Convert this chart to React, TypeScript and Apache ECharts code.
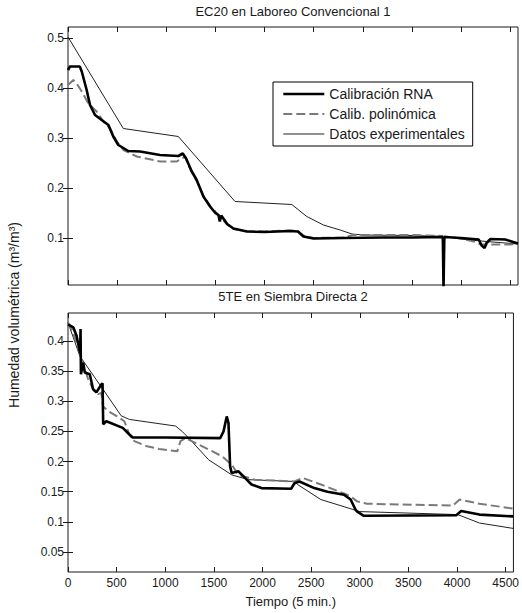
import React, { useEffect, useRef } from "react";
import * as echarts from "echarts";

const seriesNames = ["Calibración RNA", "Calib. polinómica", "Datos experimentales"];
const titles = ["EC20 en Laboreo Convencional 1", "5TE en Siembra Directa 2"];
const xTicks = [0, 500, 1000, 1500, 2000, 2500, 3000, 3500, 4000, 4500];
const yTicksTop = [0.1, 0.2, 0.3, 0.4, 0.5];
const yTicksBottom = [0.05, 0.1, 0.15, 0.2, 0.25, 0.3, 0.35, 0.4];

const topRna = [
  [0, 0.436], [20, 0.443], [120, 0.443], [140, 0.433], [190, 0.396], [224, 0.366], [275, 0.346],
  [343, 0.336], [411, 0.326], [461, 0.303], [512, 0.286], [614, 0.274], [733, 0.273], [937, 0.266],
  [1123, 0.264], [1168, 0.269], [1202, 0.259], [1260, 0.233], [1310, 0.216], [1378, 0.183],
  [1446, 0.163], [1500, 0.15], [1531, 0.146], [1545, 0.133], [1560, 0.145], [1620, 0.128],
  [1683, 0.119], [1820, 0.113], [2000, 0.112], [2260, 0.114], [2340, 0.113], [2396, 0.103],
  [2498, 0.099], [2800, 0.1], [3200, 0.101], [3500, 0.101], [3815, 0.102], [3822, 0],
  [3830, 0.102], [4000, 0.1], [4180, 0.097], [4210, 0.085], [4240, 0.08], [4260, 0.09],
  [4300, 0.098], [4450, 0.097], [4580, 0.089],
];
const topPoly = [
  [0, 0.406], [54, 0.416], [88, 0.409], [140, 0.393], [207, 0.369], [292, 0.353], [360, 0.333],
  [428, 0.319], [496, 0.293], [564, 0.276], [700, 0.263], [937, 0.253], [1107, 0.253],
  [1191, 0.263], [1250, 0.235], [1310, 0.214], [1378, 0.185], [1446, 0.164], [1531, 0.146],
  [1620, 0.127], [1683, 0.118], [1820, 0.114], [2000, 0.113], [2260, 0.115], [2340, 0.114],
  [2396, 0.105], [2498, 0.1], [2800, 0.101], [2900, 0.106], [3500, 0.106], [3815, 0.104],
  [3822, 0], [3830, 0.103], [4000, 0.099], [4150, 0.092], [4200, 0.087], [4500, 0.087],
  [4580, 0.088],
];
const topExp = [
  [0, 0.502], [563, 0.319], [1123, 0.303], [1700, 0.173], [2278, 0.167], [2430, 0.143],
  [2600, 0.126], [2770, 0.116], [2890, 0.108], [3000, 0.106], [3500, 0.105], [3850, 0.103],
  [4000, 0.098], [4260, 0.093], [4580, 0.088],
];
const botRna = [
  [0, 0.428], [54, 0.423], [88, 0.409], [125, 0.38], [129, 0.42], [133, 0.345], [156, 0.364],
  [173, 0.348], [224, 0.345], [258, 0.32], [292, 0.315], [343, 0.328], [355, 0.33], [362, 0.262],
  [394, 0.267], [563, 0.256], [631, 0.245], [665, 0.24], [1000, 0.24], [1565, 0.239],
  [1599, 0.25], [1632, 0.275], [1650, 0.264], [1667, 0.192], [1683, 0.181], [1751, 0.184],
  [1820, 0.173], [1887, 0.162], [1989, 0.156], [2294, 0.155], [2329, 0.164], [2380, 0.167],
  [2532, 0.156], [2668, 0.15], [2838, 0.145], [2906, 0.137], [2957, 0.12], [2974, 0.117],
  [3042, 0.11], [3992, 0.111], [4043, 0.118], [4230, 0.112], [4580, 0.109],
];
const botPoly = [
  [0, 0.431], [54, 0.414], [105, 0.387], [139, 0.37], [207, 0.337], [258, 0.32], [309, 0.312],
  [343, 0.314], [360, 0.292], [411, 0.284], [496, 0.276], [580, 0.267], [631, 0.245],
  [682, 0.234], [801, 0.226], [937, 0.221], [1123, 0.217], [1157, 0.234], [1208, 0.239],
  [1446, 0.22], [1582, 0.209], [1683, 0.195], [1751, 0.178], [1921, 0.17], [2329, 0.167],
  [2413, 0.173], [2600, 0.162], [2872, 0.145], [2906, 0.142], [2974, 0.134], [3075, 0.13],
  [3958, 0.127], [4026, 0.137], [4230, 0.13], [4535, 0.123], [4580, 0.122],
];
const botExp = [
  [0, 0.431], [122, 0.375], [360, 0.32], [547, 0.276], [631, 0.27], [1107, 0.259], [1174, 0.25],
  [1242, 0.239], [1446, 0.203], [1683, 0.178], [1853, 0.17], [2329, 0.167], [2360, 0.162],
  [2600, 0.137], [2940, 0.12], [3000, 0.117], [4009, 0.112], [4230, 0.098], [4580, 0.089],
];

const FONT = "Liberation Sans, Arial, sans-serif";
const INK = "#1a1a1a";

export default function App() {
  const ref = useRef<HTMLDivElement>(null);
  useEffect(() => {
    document.body.style.margin = "0";
    if (!ref.current) return;
    const chart = echarts.init(ref.current, undefined, { renderer: "svg" });

    const xBase = (gridIndex: number, showLabels: boolean, position: string) => ({
      type: "value",
      gridIndex,
      position,
      min: 0,
      max: 4580,
      axisLine: { show: false },
      splitLine: { show: false },
      axisTick: {
        show: true,
        inside: true,
        length: 5,
        customValues: xTicks,
        lineStyle: { color: INK },
      },
      axisLabel: {
        show: showLabels,
        customValues: xTicks,
        margin: 5,
        fontSize: 12,
        fontFamily: FONT,
        color: INK,
        formatter: (v: number) => String(v),
      },
    });
    const yBase = (gridIndex: number, min: number, max: number, ticks: number[], showLabels: boolean, position: string) => ({
      type: "value",
      gridIndex,
      position,
      min,
      max,
      axisLine: { show: false },
      splitLine: { show: false },
      axisTick: {
        show: true,
        inside: true,
        length: 5,
        customValues: ticks,
        lineStyle: { color: INK },
      },
      axisLabel: {
        show: showLabels,
        customValues: ticks,
        margin: 4,
        fontSize: 12,
        fontFamily: FONT,
        color: INK,
        formatter: (v: number) => String(v),
      },
    });

    const styles: any[] = [
      { color: "#000", width: 2.6, type: "solid" },
      { color: "#7a7a7a", width: 2, type: [9, 4] },
      { color: "#222", width: 1, type: "solid" },
    ];
    const mk = (name: string, idx: number, data: number[][], axisIndex: number, z: number) => ({
      name,
      type: "line",
      data,
      xAxisIndex: axisIndex,
      yAxisIndex: axisIndex,
      symbol: "none",
      showSymbol: false,
      clip: true,
      z,
      lineStyle: styles[idx],
      itemStyle: { color: styles[idx].color },
    });

    const option: any = {
      animation: false,
      backgroundColor: "#fff",
      title: [
        {
          text: titles[0],
          left: 293,
          textAlign: "center",
          top: 5,
          padding: 0,
          textStyle: { fontSize: 13, fontWeight: "normal", fontFamily: FONT, color: INK },
        },
        {
          text: titles[1],
          left: 293,
          textAlign: "center",
          top: 290,
          padding: 0,
          textStyle: { fontSize: 13, fontWeight: "normal", fontFamily: FONT, color: INK },
        },
      ],
      legend: {
        show: true,
        data: seriesNames.map((name, i) => ({
          name,
          lineStyle: { color: styles[i].color, width: styles[i].width, type: styles[i].type },
          itemStyle: { opacity: 0 },
        })),
        orient: "vertical",
        left: 273,
        top: 82,
        padding: [5, 8, 5, 9],
        itemGap: 6,
        itemWidth: 41,
        itemHeight: 14,
        backgroundColor: "#fff",
        borderColor: "#000",
        borderWidth: 1,
        borderRadius: 0,
        selectedMode: false,
        itemStyle: { opacity: 0 },
        textStyle: { fontSize: 14, fontFamily: FONT, color: INK, padding: [0, 0, 0, 0] },
      },
      grid: [
        { left: 68, top: 27, width: 450, height: 258, show: true, borderColor: INK, borderWidth: 1, backgroundColor: "transparent" },
        { left: 68, top: 313, width: 450, height: 259, show: true, borderColor: INK, borderWidth: 1, backgroundColor: "transparent" },
      ],
      xAxis: [
        xBase(0, false, "bottom"),
        { ...xBase(1, true, "bottom"), name: "Tiempo (5 min.)", nameLocation: "middle", nameGap: 23, nameTextStyle: { fontSize: 13, fontFamily: FONT, color: INK } },
        xBase(0, false, "top"),
        xBase(1, false, "top"),
      ],
      yAxis: [
        yBase(0, 0.006, 0.522, yTicksTop, true, "left"),
        yBase(1, 0.0167, 0.4467, yTicksBottom, true, "left"),
        yBase(0, 0.006, 0.522, yTicksTop, false, "right"),
        yBase(1, 0.0167, 0.4467, yTicksBottom, false, "right"),
      ],
      graphic: [
        {
          type: "text",
          x: 14,
          y: 315,
          rotation: Math.PI / 2,
          style: {
            text: "Humedad volumétrica (m³/m³)",
            fontSize: 14,
            fontFamily: FONT,
            fill: INK,
            textAlign: "center",
            textVerticalAlign: "middle",
          },
        },
      ],
      series: [
        mk(seriesNames[2], 2, topExp, 0, 3),
        mk(seriesNames[1], 1, topPoly, 0, 4),
        mk(seriesNames[0], 0, topRna, 0, 5),
        mk(seriesNames[2], 2, botExp, 1, 3),
        mk(seriesNames[1], 1, botPoly, 1, 4),
        mk(seriesNames[0], 0, botRna, 1, 5),
      ],
    };
    chart.setOption(option);
    return () => chart.dispose();
  }, []);
  return <div ref={ref} style={{ width: 522, height: 613 }} />;
}
